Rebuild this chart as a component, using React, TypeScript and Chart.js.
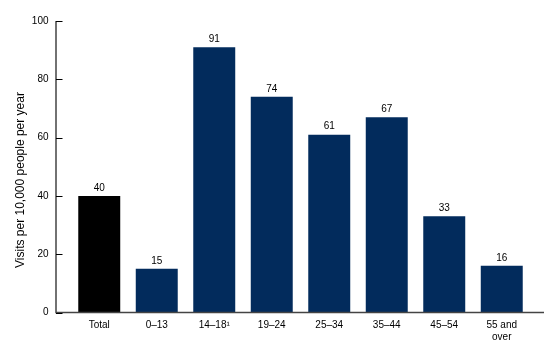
import React, { useEffect, useRef } from "react";
import { Chart, registerables } from "chart.js";

Chart.register(...registerables);

const categories: (string | string[])[] = ["Total", "0–13", "14–18¹", "19–24", "25–34", "35–44", "45–54", ["55 and", "over"]];
const values: number[] = [40, 15, 91, 74, 61, 67, 33, 16];
const barColors: string[] = ["#000000", "#022b5c", "#022b5c", "#022b5c", "#022b5c", "#022b5c", "#022b5c", "#022b5c"];
const yTitle = "Visits per 10,000 people per year";
const FONT = "'Liberation Sans', Arial, sans-serif";

const axesPlugin = {
  id: "customAxes",
  afterDraw(chart: any) {
    const ctx = chart.ctx;
    const area = chart.chartArea;
    const y = chart.scales.y;
    const axisX = area.left - 14.5;
    const axisRight = area.right + 13.5;
    const bottom = y.getPixelForValue(0);
    ctx.save();
    ctx.strokeStyle = "#444";
    ctx.lineWidth = 1.5;
    ctx.beginPath();
    ctx.moveTo(axisX, y.getPixelForValue(100));
    ctx.lineTo(axisX, bottom);
    ctx.lineTo(axisRight, bottom);
    ctx.stroke();
    ctx.strokeStyle = "#000";
    ctx.lineWidth = 1;
    y.ticks.forEach((t: any) => {
      const py = Math.round(y.getPixelForValue(t.value)) + 0.5;
      ctx.beginPath();
      ctx.moveTo(axisX, py);
      ctx.lineTo(axisX + 6.5, py);
      ctx.stroke();
    });
    // data labels
    const meta = chart.getDatasetMeta(0);
    ctx.fillStyle = "#000";
    ctx.font = `10px ${FONT}`;
    ctx.textAlign = "center";
    ctx.textBaseline = "bottom";
    meta.data.forEach((bar: any, i: number) => {
      ctx.fillText(String(values[i]), bar.x, bar.y - 3);
    });
    // y-axis title
    ctx.save();
    ctx.translate(21, 180);
    ctx.rotate(-Math.PI / 2);
    ctx.font = `12px ${FONT}`;
    ctx.textBaseline = "middle";
    ctx.fillText(yTitle, 0, 0);
    ctx.restore();
    ctx.restore();
  },
};

export default function App() {
  const ref = useRef<HTMLCanvasElement | null>(null);
  useEffect(() => {
    document.body.style.margin = "0";
    if (!ref.current) return;
    const chart = new Chart(ref.current, {
      type: "bar",
      data: {
        labels: categories,
        datasets: [
          {
            data: values,
            backgroundColor: barColors,
            borderWidth: 0,
            barPercentage: 0.73,
            categoryPercentage: 1,
          },
        ],
      },
      options: {
        responsive: false,
        animation: false,
        devicePixelRatio: 1,
        layout: { padding: { top: 21, right: 29.5, left: 0, bottom: 0 } },
        plugins: { legend: { display: false }, tooltip: { enabled: false } },
        scales: {
          x: {
            grid: { display: false, drawTicks: false },
            border: { display: false },
            ticks: { color: "#000", font: { size: 10, family: FONT }, padding: 7, maxRotation: 0, autoSkip: false },
            afterFit: (s: any) => {
              s.height = 41.5;
            },
          },
          y: {
            min: 0,
            max: 100,
            grid: { display: false, drawTicks: true, tickLength: 22 },
            border: { display: false },
            ticks: { stepSize: 20, color: "#000", font: { size: 10, family: FONT }, padding: 0 },
            afterFit: (s: any) => {
              s.width = 70.5;
            },
          },
        },
      },
      plugins: [axesPlugin],
    });
    return () => chart.destroy();
  }, []);
  return <canvas ref={ref} width={560} height={354} style={{ display: "block" }} />;
}
